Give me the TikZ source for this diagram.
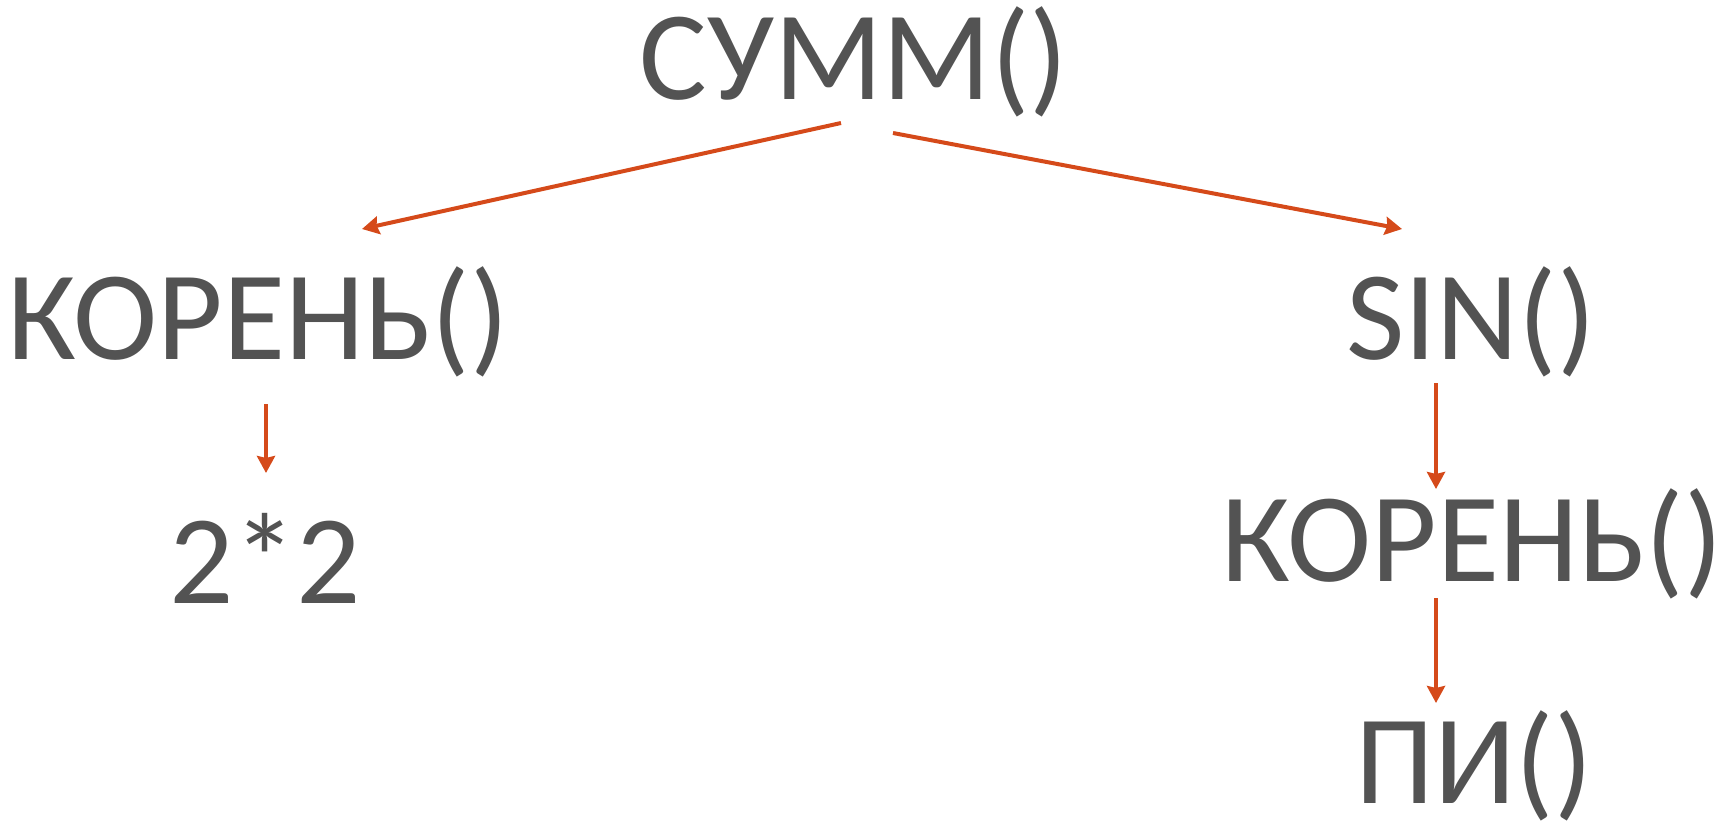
\documentclass[tikz,border=0pt]{standalone}
\usepackage{fontspec}
\setmainfont{Carlito}
\usetikzlibrary{arrows.meta}
\definecolor{txt}{HTML}{535353}
\definecolor{arr}{HTML}{D54A1A}
\tikzset{
  lbl/.style={anchor=base,inner sep=0pt,text=txt,font=\fontsize{127}{130}\selectfont},
  conn/.style={draw=arr,line width=4pt,-{Stealth[length=17pt,width=18pt,inset=2pt]}}
}
\begin{document}
\begin{tikzpicture}[x=1pt,y=-1pt]
\useasboundingbox (0,0) rectangle (1727,823);
\node[lbl] (summ) at (854,99) {СУММ()};
\node[lbl] (kor1) at (258,359) {КОРЕНЬ()};
\node[lbl] (sin) at (1471,359) {SIN()};
\node[lbl] (two) at (265,603) {2*2};
\node[lbl] (kor2) at (1472,581) {КОРЕНЬ()};
\node[lbl] (pi) at (1474,803) {ПИ()};
\draw[conn] ([shift={(-13,24)}]summ.base) -- ([shift={(104,-130)}]kor1.base);
\draw[conn] ([shift={(39,34)}]summ.base) -- ([shift={(-69,-130)}]sin.base);
\draw[conn] ([shift={(8,45)}]kor1.base) -- ([shift={(1,-130)}]two.base);
\draw[conn] ([shift={(-35,24)}]sin.base) -- ([shift={(-36,-92)}]kor2.base);
\draw[conn] ([shift={(-36,17)}]kor2.base) -- ([shift={(-38,-100)}]pi.base);
\end{tikzpicture}
\end{document}
